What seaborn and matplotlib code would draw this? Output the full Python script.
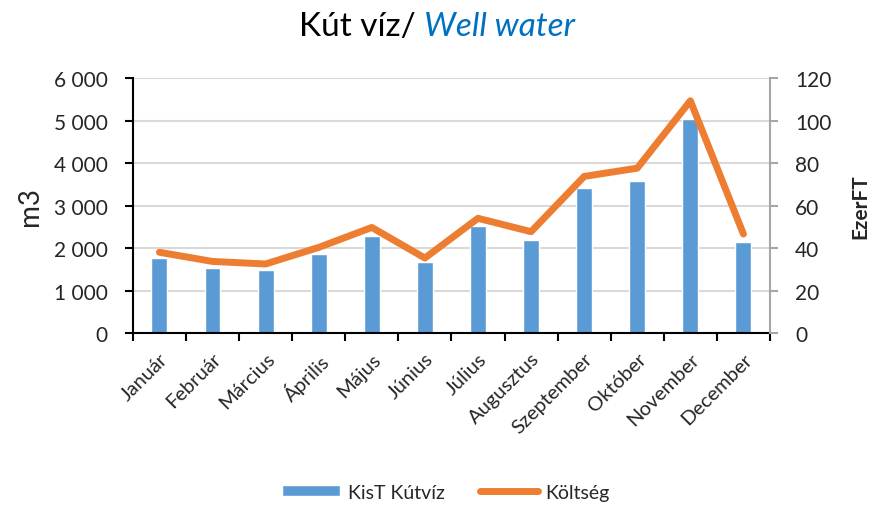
import numpy as np
import pandas as pd
import matplotlib
matplotlib.use('Agg')
import matplotlib.pyplot as plt
from matplotlib.patches import Patch
from matplotlib.lines import Line2D
from matplotlib.ticker import FuncFormatter, FixedLocator
import seaborn as sns

# Adatok
months = ['Január', 'Február', 'Március', 'Április', 'Május', 'Június',
          'Július', 'Augusztus', 'Szeptember', 'Október', 'November', 'December']
water_m3 = [1755, 1530, 1480, 1850, 2275, 1670, 2510, 2180, 3405, 3585, 5035, 2140]
cost_eft = [38.0, 33.7, 32.5, 40.3, 49.7, 35.3, 54.0, 47.7, 73.7, 77.6, 109.3, 46.6]

bar_color = '#5B9BD5'
line_color = '#ED7D31'

sns.set_style('white')
plt.rcParams['font.family'] = ['Lato', 'DejaVu Sans']

df = pd.DataFrame({'honap': months, 'viz': water_m3, 'koltseg': cost_eft})

fig = plt.figure(figsize=(8.74, 5.10), dpi=100)
ax = fig.add_axes([0.152, 0.345, 0.729, 0.5])

sns.barplot(data=df, x='honap', y='viz', color=bar_color, width=0.3,
            saturation=1, ax=ax, zorder=2)
ax.set_ylim(0, 6000)
ax.set_xlim(-0.5, len(months) - 0.5)
ax.set_yticks(np.arange(0, 6001, 1000))
ax.yaxis.set_major_formatter(FuncFormatter(lambda v, p: f'{int(v):,}'.replace(',', ' ')))
ax.grid(axis='y', color='#D9D9D9', linewidth=1.5, zorder=0)
ax.set_axisbelow(True)

# x tengely: feliratok középen, jelölők a kategóriák között
ax.set_xticks(np.arange(len(months)))
ax.set_xticklabels(months, rotation=45, ha='right', rotation_mode='anchor', fontsize=14.5)
ax.tick_params(axis='x', which='major', length=0, pad=12)
ax.xaxis.set_minor_locator(FixedLocator(np.arange(-0.5, len(months), 1)))
ax.tick_params(axis='x', which='minor', length=6, width=1.5, color='black', direction='out', bottom=True)
ax.tick_params(axis='y', length=6, width=1.5, color='black', direction='out', left=True,
               labelsize=15, pad=12)
ax.set_xlabel('')
ax.set_ylabel('m3', fontsize=20, labelpad=8)

for s in ['top', 'right']:
    ax.spines[s].set_visible(False)
ax.spines['left'].set_color('black')
ax.spines['left'].set_linewidth(1.5)
ax.spines['bottom'].set_color('black')
ax.spines['bottom'].set_linewidth(1.5)

ax2 = ax.twinx()
sns.lineplot(x=np.arange(len(months)), y=cost_eft, color=line_color, linewidth=5,
             solid_capstyle='round', solid_joinstyle='round', ax=ax2, zorder=3)
ax2.set_ylim(0, 120)
ax2.set_yticks(np.arange(0, 121, 20))
ax2.tick_params(axis='y', length=6, width=1.5, color='#A6A6A6', direction='out', right=True,
                labelsize=15, pad=12)
ax2.set_ylabel('EzerFT', fontsize=15, fontweight='bold', labelpad=14)
for s in ['top', 'left', 'bottom']:
    ax2.spines[s].set_visible(False)
ax2.spines['right'].set_color('#A6A6A6')
ax2.spines['right'].set_linewidth(1.5)

# Cím két részből
t1 = fig.text(0.5, 0.93, 'Kút víz/ ', fontsize=24, color='black', ha='left', va='baseline')
t2 = fig.text(0.5, 0.93, 'Well water', fontsize=24, color='#0070C0', style='italic',
              ha='left', va='baseline')
fig.canvas.draw()
r = fig.canvas.get_renderer()
w1 = t1.get_window_extent(r).width / fig.bbox.width
w2 = t2.get_window_extent(r).width / fig.bbox.width
x0 = 0.5 - (w1 + w2) / 2
t1.set_x(x0)
t2.set_x(x0 + w1)

handles = [Patch(facecolor=bar_color, label='KisT Kútvíz'),
           Line2D([0], [0], color=line_color, linewidth=5, solid_capstyle='round', label='Költség')]
fig.legend(handles=handles, loc='center', bbox_to_anchor=(0.51, 0.033), ncol=2, frameon=False,
           fontsize=14, handlelength=3.0, handleheight=0.5, columnspacing=1.8, handletextpad=0.4)

fig.savefig('out.png', dpi=100)
